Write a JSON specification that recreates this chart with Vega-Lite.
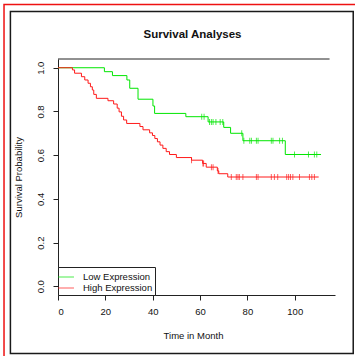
{
  "$schema": "https://vega.github.io/schema/vega-lite/v6.json",
  "width": 277,
  "height": 236,
  "autosize": {"type": "none"},
  "padding": {"left": 58, "top": 59, "right": 20, "bottom": 61},
  "background": "white",
  "title": {
    "text": "Survival Analyses",
    "font": "Liberation Sans",
    "fontSize": 11.5,
    "fontWeight": "bold",
    "color": "#111111",
    "offset": -37,
    "dx": -4
  },
  "config": {
    "font": "Liberation Sans",
    "view": {"stroke": null},
    "axis": {
      "grid": false,
      "domainColor": "#222222",
      "tickColor": "#222222",
      "labelColor": "#111111",
      "titleColor": "#111111",
      "labelFont": "Liberation Sans",
      "titleFont": "Liberation Sans",
      "labelFontSize": 9.5,
      "titleFontSize": 9.5,
      "titleFontWeight": "normal",
      "tickSize": 5
    }
  },
  "datasets": {
    "km": [
      {"group": "Low Expression", "time": 0, "surv": 1.0},
      {"group": "Low Expression", "time": 19.6, "surv": 0.982},
      {"group": "Low Expression", "time": 23.0, "surv": 0.964},
      {"group": "Low Expression", "time": 29.1, "surv": 0.944},
      {"group": "Low Expression", "time": 30.3, "surv": 0.906},
      {"group": "Low Expression", "time": 33.8, "surv": 0.856},
      {"group": "Low Expression", "time": 40.1, "surv": 0.825},
      {"group": "Low Expression", "time": 40.8, "surv": 0.791},
      {"group": "Low Expression", "time": 54.0, "surv": 0.776},
      {"group": "Low Expression", "time": 63.4, "surv": 0.752},
      {"group": "Low Expression", "time": 70.0, "surv": 0.727},
      {"group": "Low Expression", "time": 72.9, "surv": 0.700},
      {"group": "Low Expression", "time": 78.1, "surv": 0.666},
      {"group": "Low Expression", "time": 96.0, "surv": 0.603},
      {"group": "Low Expression", "time": 111.1, "surv": 0.603},
      {"group": "High Expression", "time": 0, "surv": 1.0},
      {"group": "High Expression", "time": 6.1, "surv": 0.990},
      {"group": "High Expression", "time": 7.0, "surv": 0.975},
      {"group": "High Expression", "time": 9.9, "surv": 0.959},
      {"group": "High Expression", "time": 11.3, "surv": 0.944},
      {"group": "High Expression", "time": 12.7, "surv": 0.929},
      {"group": "High Expression", "time": 13.7, "surv": 0.913},
      {"group": "High Expression", "time": 14.5, "surv": 0.898},
      {"group": "High Expression", "time": 15.1, "surv": 0.878},
      {"group": "High Expression", "time": 16.2, "surv": 0.860},
      {"group": "High Expression", "time": 21.1, "surv": 0.849},
      {"group": "High Expression", "time": 23.5, "surv": 0.834},
      {"group": "High Expression", "time": 25.0, "surv": 0.815},
      {"group": "High Expression", "time": 25.8, "surv": 0.798},
      {"group": "High Expression", "time": 26.8, "surv": 0.778},
      {"group": "High Expression", "time": 27.7, "surv": 0.761},
      {"group": "High Expression", "time": 29.0, "surv": 0.745},
      {"group": "High Expression", "time": 34.6, "surv": 0.731},
      {"group": "High Expression", "time": 35.9, "surv": 0.716},
      {"group": "High Expression", "time": 38.7, "surv": 0.702},
      {"group": "High Expression", "time": 39.9, "surv": 0.690},
      {"group": "High Expression", "time": 40.9, "surv": 0.676},
      {"group": "High Expression", "time": 42.0, "surv": 0.661},
      {"group": "High Expression", "time": 43.1, "surv": 0.646},
      {"group": "High Expression", "time": 44.3, "surv": 0.631},
      {"group": "High Expression", "time": 45.7, "surv": 0.616},
      {"group": "High Expression", "time": 47.1, "surv": 0.603},
      {"group": "High Expression", "time": 50.0, "surv": 0.589},
      {"group": "High Expression", "time": 56.4, "surv": 0.577},
      {"group": "High Expression", "time": 61.1, "surv": 0.562},
      {"group": "High Expression", "time": 62.6, "surv": 0.545},
      {"group": "High Expression", "time": 67.3, "surv": 0.528},
      {"group": "High Expression", "time": 67.9, "surv": 0.515},
      {"group": "High Expression", "time": 71.7, "surv": 0.500},
      {"group": "High Expression", "time": 110.1, "surv": 0.500}
    ],
    "censor": [
      {"group": "Low Expression", "time": 60.7, "surv": 0.776},
      {"group": "Low Expression", "time": 61.7, "surv": 0.776},
      {"group": "Low Expression", "time": 64.0, "surv": 0.752},
      {"group": "Low Expression", "time": 64.8, "surv": 0.752},
      {"group": "Low Expression", "time": 65.5, "surv": 0.752},
      {"group": "Low Expression", "time": 66.7, "surv": 0.752},
      {"group": "Low Expression", "time": 68.5, "surv": 0.752},
      {"group": "Low Expression", "time": 69.6, "surv": 0.752},
      {"group": "Low Expression", "time": 77.6, "surv": 0.700},
      {"group": "Low Expression", "time": 78.5, "surv": 0.666},
      {"group": "Low Expression", "time": 81.0, "surv": 0.666},
      {"group": "Low Expression", "time": 81.7, "surv": 0.666},
      {"group": "Low Expression", "time": 83.8, "surv": 0.666},
      {"group": "Low Expression", "time": 84.5, "surv": 0.666},
      {"group": "Low Expression", "time": 90.1, "surv": 0.666},
      {"group": "Low Expression", "time": 90.8, "surv": 0.666},
      {"group": "Low Expression", "time": 93.6, "surv": 0.666},
      {"group": "Low Expression", "time": 94.8, "surv": 0.666},
      {"group": "Low Expression", "time": 99.9, "surv": 0.603},
      {"group": "Low Expression", "time": 105.8, "surv": 0.603},
      {"group": "Low Expression", "time": 108.3, "surv": 0.603},
      {"group": "Low Expression", "time": 109.3, "surv": 0.603},
      {"group": "High Expression", "time": 56.4, "surv": 0.577},
      {"group": "High Expression", "time": 61.2, "surv": 0.562},
      {"group": "High Expression", "time": 61.5, "surv": 0.562},
      {"group": "High Expression", "time": 64.8, "surv": 0.545},
      {"group": "High Expression", "time": 65.5, "surv": 0.545},
      {"group": "High Expression", "time": 67.6, "surv": 0.528},
      {"group": "High Expression", "time": 73.2, "surv": 0.500},
      {"group": "High Expression", "time": 75.3, "surv": 0.500},
      {"group": "High Expression", "time": 76.0, "surv": 0.500},
      {"group": "High Expression", "time": 76.6, "surv": 0.500},
      {"group": "High Expression", "time": 78.1, "surv": 0.500},
      {"group": "High Expression", "time": 83.8, "surv": 0.500},
      {"group": "High Expression", "time": 84.5, "surv": 0.500},
      {"group": "High Expression", "time": 90.1, "surv": 0.500},
      {"group": "High Expression", "time": 91.4, "surv": 0.500},
      {"group": "High Expression", "time": 92.8, "surv": 0.500},
      {"group": "High Expression", "time": 96.6, "surv": 0.500},
      {"group": "High Expression", "time": 97.4, "surv": 0.500},
      {"group": "High Expression", "time": 98.2, "surv": 0.500},
      {"group": "High Expression", "time": 99.2, "surv": 0.500},
      {"group": "High Expression", "time": 102.0, "surv": 0.500},
      {"group": "High Expression", "time": 106.2, "surv": 0.500},
      {"group": "High Expression", "time": 107.2, "surv": 0.500},
      {"group": "High Expression", "time": 108.3, "surv": 0.500}
    ]
  },
  "layer": [
    {
      "data": {"values": [{}]},
      "mark": {"type": "rect", "filled": false, "stroke": "#ee1111", "strokeWidth": 1.5},
      "encoding": {
        "x": {"datum": -22.8, "type": "quantitative"},
        "x2": {"datum": 130},
        "y": {"datum": 1.289, "type": "quantitative"},
        "y2": {"datum": -0.45}
      }
    },
    {
      "data": {"values": [{}]},
      "mark": {"type": "rect", "filled": false, "stroke": "#1a1a1a", "strokeWidth": 1.5},
      "encoding": {
        "x": {"datum": -20.1, "type": "quantitative"},
        "x2": {"datum": 124.7},
        "y": {"datum": 1.257, "type": "quantitative"},
        "y2": {"datum": -0.308}
      }
    },
    {
      "data": {"values": [{}]},
      "mark": {"type": "rule", "color": "#222222", "strokeWidth": 1},
      "encoding": {
        "x": {"datum": 0, "type": "quantitative"},
        "x2": {"datum": 114.7},
        "y": {"datum": 1.04, "type": "quantitative"}
      }
    },
    {
      "data": {"name": "km"},
      "mark": {"type": "line", "interpolate": "step-after", "strokeWidth": 1},
      "encoding": {
        "x": {
          "field": "time",
          "type": "quantitative",
          "scale": {"domain": [0, 117], "nice": false, "zero": false},
          "axis": {
            "title": "Time in Month",
            "values": [0, 20, 40, 60, 80, 100],
            "labelPadding": 6,
            "titlePadding": 15,
            "titleX": 135
          }
        },
        "y": {
          "field": "surv",
          "type": "quantitative",
          "scale": {"domain": [-0.04, 1.04], "nice": false, "zero": false},
          "axis": {
            "title": "Survival Probability",
            "values": [0, 0.2, 0.4, 0.6, 0.8, 1.0],
            "format": ".1f",
            "labelAngle": 270,
            "labelAlign": "center",
            "labelBaseline": "bottom",
            "labelPadding": 8,
            "titlePadding": 12
          }
        },
        "color": {
          "field": "group",
          "type": "nominal",
          "scale": {"domain": ["Low Expression", "High Expression"], "range": ["#00e600", "#ff1a1a"]},
          "legend": {
            "title": " ",
            "titleFontSize": 1,
            "titlePadding": 1,
            "orient": "none",
            "legendX": 0,
            "legendY": 208,
            "symbolType": "M-1.45,0H1.45",
            "symbolSize": 121,
            "symbolStrokeWidth": 1,
            "labelFontSize": 9.5,
            "labelColor": "#111111",
            "labelOffset": 11,
            "padding": 2,
            "rowPadding": 0,
            "strokeColor": "#222222",
            "fillColor": "white",
            "cornerRadius": 0
          }
        }
      }
    },
    {
      "data": {"name": "censor"},
      "mark": {"type": "tick", "orient": "vertical", "size": 6, "thickness": 1},
      "encoding": {
        "x": {"field": "time", "type": "quantitative"},
        "y": {"field": "surv", "type": "quantitative"},
        "color": {"field": "group", "type": "nominal"}
      }
    }
  ]
}
